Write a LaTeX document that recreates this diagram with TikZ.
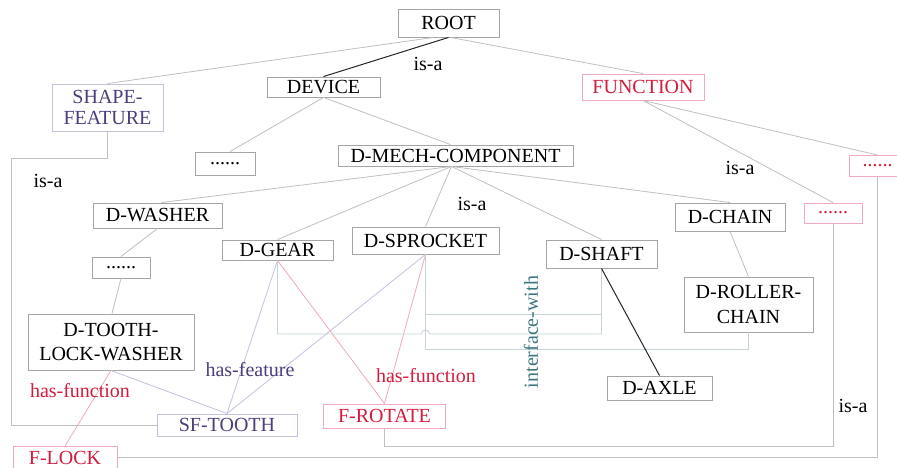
\documentclass[tikz,border=0pt]{standalone}
\usepackage{fontspec}
\setmainfont{Liberation Serif}
\definecolor{boxgray}{RGB}{165,165,165}
\definecolor{lgray}{RGB}{192,192,192}
\definecolor{fred}{RGB}{212,28,62}
\definecolor{fpink}{RGB}{238,170,186}
\definecolor{spurple}{RGB}{78,62,122}
\definecolor{slilac}{RGB}{198,192,222}
\definecolor{tealtxt}{RGB}{62,118,128}
\definecolor{teall}{RGB}{196,212,216}
\begin{document}
\begin{tikzpicture}[x=1pt,y=-1pt,
  every node/.style={font=\fontsize{20}{23}\selectfont, inner sep=0pt},
  nb/.style n args={2}{draw=boxgray, line width=0.9pt, minimum width=#1, minimum height=#2, text=black},
  fb/.style n args={2}{draw=fpink, line width=0.9pt, minimum width=#1, minimum height=#2, text=fred},
  sb/.style n args={2}{draw=slilac, line width=0.9pt, minimum width=#1, minimum height=#2, text=spurple},
  isa/.style={draw=lgray, line width=0.8pt},
  dark/.style={draw=black!85, line width=1pt},
  hf/.style={draw=fpink, line width=0.8pt},
  hfeat/.style={draw=slilac, line width=0.8pt},
  iw/.style={draw=teall, line width=0.8pt},
  lbl/.style={text=black},
  redlbl/.style={text=fred},
  purlbl/.style={text=spurple},
  teallbl/.style={text=tealtxt}]
\clip (0,0) rectangle (897,468);
\fill[white] (0,0) rectangle (897,468);
% nodes
\node[nb={101}{28}] (root) at (448.5,23) {ROOT};
\node[nb={113}{20}] (device) at (323.5,87) {DEVICE};
\node[sb={111}{47}, align=center, font=\fontsize{20}{21.5}\selectfont] (shape) at (107.5,107.5) {SHAPE-\\FEATURE};
\node[fb={122}{26}] (function) at (643,87) {FUNCTION};
\node[nb={60}{23}] (dotsL) at (225,163.5) {......};
\node[nb={235}{21}] (mech) at (455.5,155.5) {D-MECH-COMPONENT};
\node[fb={58}{20}] (dotsR1) at (833,213) {......};
\node[fb={57}{21}] (dotsR2) at (877.5,166) {......};
\node[nb={129}{25}] (washer) at (157.5,215.5) {D-WASHER};
\node[nb={111}{20}] (gear) at (277.5,250) {D-GEAR};
\node[nb={147}{27}] (sprocket) at (425.5,240.5) {D-SPROCKET};
\node[nb={111}{28}] (shaft) at (601.5,254) {D-SHAFT};
\node[nb={110}{28}] (chain) at (730,217) {D-CHAIN};
\node[nb={129}{55}, align=center, font=\fontsize{20}{24.5}\selectfont] (roller) at (748.5,304.5) {D-ROLLER-\\CHAIN};
\node[nb={58}{21}] (dotsW) at (121,267.5) {......};
\node[nb={166}{56}, align=center, font=\fontsize{20}{24}\selectfont] (tooth) at (111,342) {D-TOOTH-\\LOCK-WASHER};
\node[sb={140}{22}] (sftooth) at (227,425) {SF-TOOTH};
\node[fb={122}{24}] (frotate) at (384.5,416) {F-ROTATE};
\node[nb={105}{24}] (axle) at (659.5,388) {D-AXLE};
\node[fb={104}{22}] (flock) at (65,457.5) {F-LOCK};
% is-a connectors
\draw[dark] (root.south) -- (device.north);
\draw[isa] ([xshift=-15]root.south) -- (shape.north);
\draw[isa] ([xshift=2]root.south) -- (function.north);
\draw[isa] (device.south) -- ([xshift=5]dotsL.north);
\draw[isa] (device.south) -- ([xshift=-5]mech.north);
\draw[isa] (function.south) -- (dotsR1.north);
\draw[isa] (function.south) -- (dotsR2.north);
\coordinate (mo) at ([xshift=-4]mech.south);
\draw[isa] (mo) -- ([xshift=4]washer.north);
\draw[isa] (mo) -- (gear.north);
\draw[isa] (mo) -- (sprocket.north);
\draw[isa] (mo) -- (shaft.north);
\draw[isa] (mo) -- (chain.north);
\draw[isa] (chain.south) -- (roller.north);
\draw[isa] (washer.south) -- (dotsW.north);
\draw[isa] (dotsW.south) -- ([xshift=1]tooth.north);
\draw[isa] (shape.south) -- (shape.south |- 0,158) -- (11,158) -- (11,425) -- (sftooth.west);
\draw[isa] (frotate.south) -- (frotate.south |- 0,446) -- (833,446) -- (dotsR1.south);
\draw[isa] (flock.east) -- (877.5,457.5) -- (dotsR2.south);
% has-feature
\draw[hfeat] (gear.south) -- (sftooth.north);
\draw[hfeat] (sprocket.south) -- (sftooth.north);
\draw[hfeat] (tooth.south) -- (sftooth.north);
% has-function
\draw[hf] (tooth.south) -- (flock.north);
\draw[hf] (gear.south) -- (frotate.north);
\draw[hf] (sprocket.south) -- (frotate.north);
% interface-with
\draw[iw] (sprocket.south) -- (425.5,314) -- (601.5,314) -- (shaft.south);
\draw[iw] (gear.south) -- (277.5,334) -- (421.5,334) arc[start angle=180, end angle=360, radius=4] -- (601.5,334) -- (shaft.south);
\draw[iw] (sprocket.south) -- (425.5,349) -- (748.5,349) -- (roller.south);
% part-of
\draw[dark] (shaft.south) -- (axle.north);
% labels
\node[lbl] (l1) at (428,64) {is-a};
\node[lbl] (l2) at (472,204) {is-a};
\node[lbl] (l3) at (740,168) {is-a};
\node[lbl] (l4) at (48,181) {is-a};
\node[lbl] (l5) at (853,406) {is-a};
\node[purlbl] (l6) at (250,370) {has-feature};
\node[redlbl] (l7) at (80,391) {has-function};
\node[redlbl] (l8) at (426,376) {has-function};
\node[teallbl, rotate=90] (l9) at (531,332) {interface-with};
\end{tikzpicture}
\end{document}
